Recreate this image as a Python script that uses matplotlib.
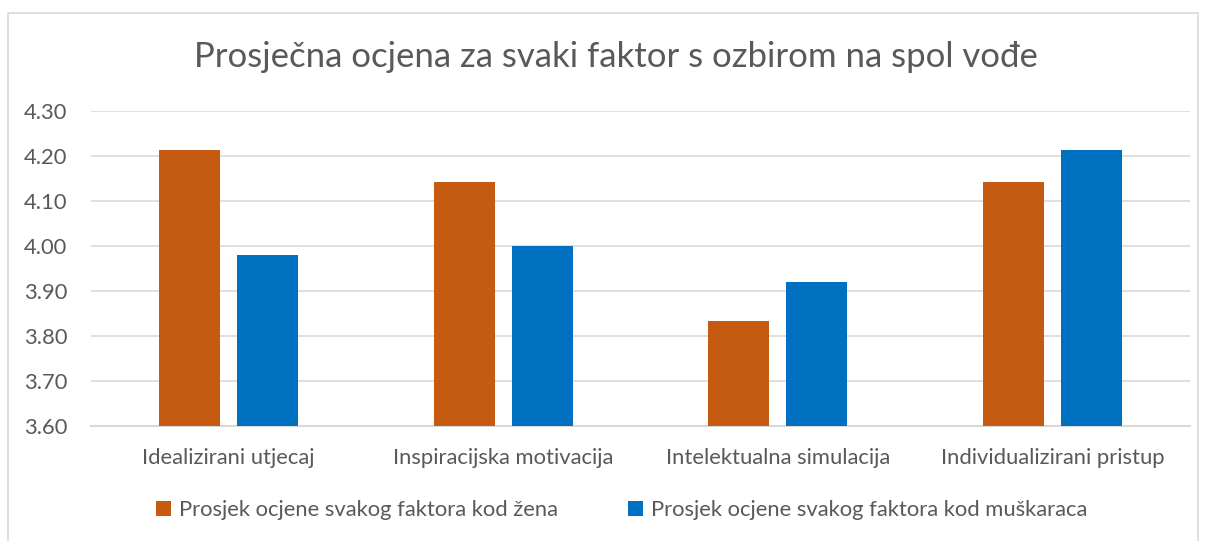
import numpy as np
import matplotlib.pyplot as plt
from matplotlib.patches import Rectangle

plt.rcParams['font.family'] = ['Lato', 'DejaVu Sans']

categories = ['Idealizirani utjecaj', 'Inspiracijska motivacija',
              'Intelektualna simulacija', 'Individualizirani pristup']
zene = [4.214, 4.143, 3.833, 4.143]
muskarci = [3.979, 4.000, 3.921, 4.214]
series_names = ['Prosjek ocjene svakog faktora kod žena',
                'Prosjek ocjene svakog faktora kod muškaraca']
yticks = [3.60, 3.70, 3.80, 3.90, 4.00, 4.10, 4.20, 4.30]

gray = '#595959'
orange = '#C55A11'
blue = '#0070C0'

W, H = 1214, 541
fig = plt.figure(figsize=(W / 100, H / 100), dpi=100)
# chart frame
fig.patches.append(Rectangle((8 / W, -0.01), 1190 / W, 1 - 13 / H + 0.01,
                             transform=fig.transFigure, fill=False,
                             edgecolor='#D9D9D9', linewidth=1.2))

ax = fig.add_axes([91 / W, 1 - 426 / H, (1190 - 91) / W, (426 - 111) / H])

x = np.arange(len(categories))
bw = 0.222
off = 0.142
ax.bar(x - off, np.array(zene) - 3.6, bw, bottom=3.6, color=orange, label=series_names[0], zorder=3)
ax.bar(x + off, np.array(muskarci) - 3.6, bw, bottom=3.6, color=blue, label=series_names[1], zorder=3)

ax.set_xlim(-0.5, len(categories) - 0.5)
ax.set_ylim(3.6, 4.3)
ax.set_yticks(yticks)
ax.set_yticklabels([f'{v:.2f}' for v in yticks])
ax.set_xticks(x)
ax.set_xticklabels(categories)
ax.grid(axis='y', color='#D9D9D9', linewidth=1.2, zorder=0)
for s in ['top', 'right', 'left']:
    ax.spines[s].set_visible(False)
ax.spines['bottom'].set_color('#D9D9D9')
ax.spines['bottom'].set_linewidth(1.5)
ax.tick_params(axis='both', length=0, labelsize=15.8, colors=gray)
ax.tick_params(axis='y', pad=17)
ax.tick_params(axis='x', pad=16)

fig.text(0.507, 1 - 57 / H, 'Prosječna ocjena za svaki faktor s ozbirom na spol vođe',
         ha='center', va='center', fontsize=25, color=gray)

leg = fig.legend(loc='center', bbox_to_anchor=(0.512, 1 - 510 / H), ncol=2,
                 frameon=False, fontsize=15.8, handlelength=0.7, handleheight=0.7,
                 handletextpad=0.35, columnspacing=3.2)
for t in leg.get_texts():
    t.set_color(gray)

fig.savefig('out.png', dpi=100)
